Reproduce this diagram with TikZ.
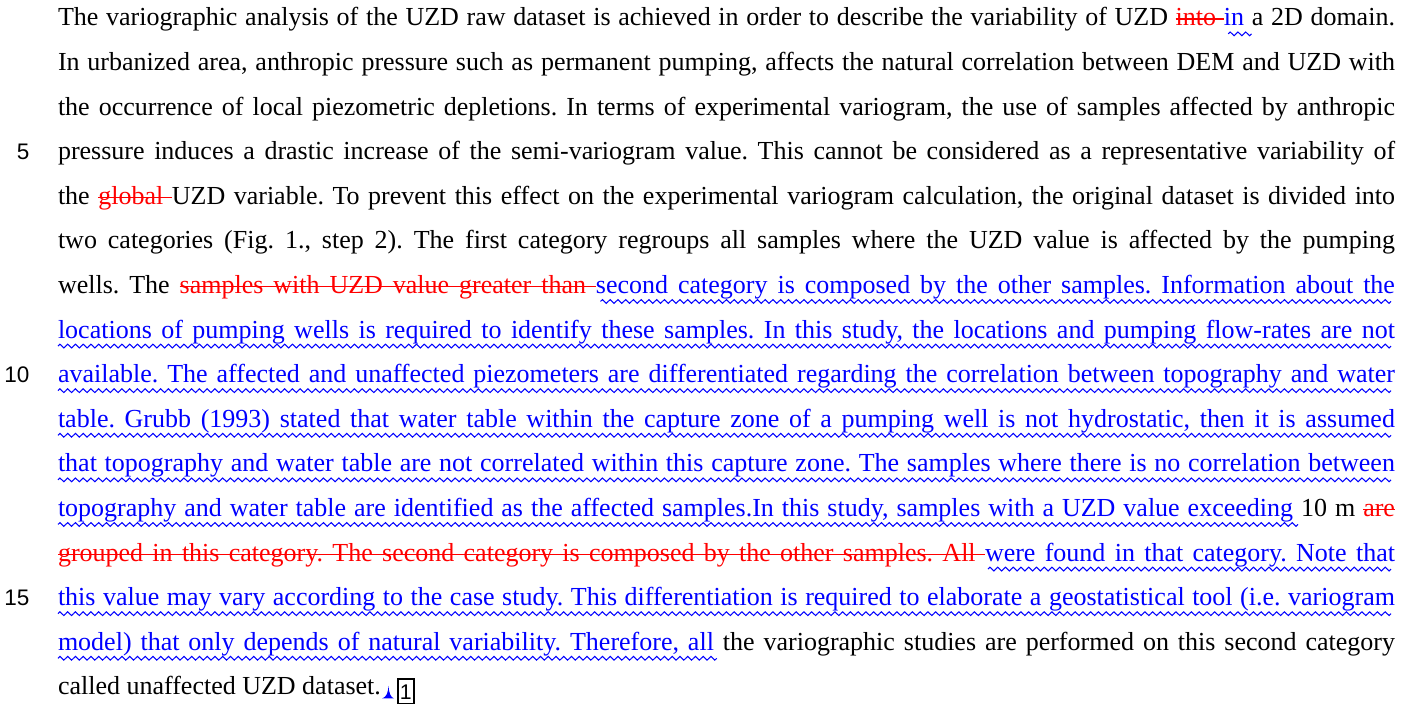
\documentclass[tikz,border=0pt]{standalone}
\usepackage{fontspec}
\setmainfont{Liberation Serif}
\setsansfont{Liberation Sans}
\usepackage{xcolor}

% ---- word-by-word markup: red strike-out for deletions, blue wavy underline for additions
\newbox\wordbox
\newsavebox\wavebox
\newlength\wavep
\setlength\wavep{3.1pt}
\newcommand\strikeword[1]{\setbox\wordbox\hbox{#1}%
  \leaders\hrule height 3.0pt depth -2.55pt\hskip\wd\wordbox
  \kern-\wd\wordbox\box\wordbox}
\newcommand\strikespace{\leaders\hrule height 3.0pt depth -2.55pt%
  \hskip\fontdimen2\font plus\fontdimen3\font minus\fontdimen4\font}
% first word of a wavy run: the wave starts on the word itself
\newcommand\wavefirst[1]{\setbox\wordbox\hbox{#1}%
  \leaders\copy\wavebox\hskip\wd\wordbox
  \kern-\wd\wordbox\box\wordbox}
% later words and spaces reach one period back so the aligned wave stays unbroken
\newcommand\waveword[1]{\setbox\wordbox\hbox{#1}%
  \kern-\wavep\leaders\copy\wavebox\hskip\dimexpr\wd\wordbox+\wavep\relax
  \kern-\wd\wordbox\box\wordbox}
\newcommand\wavespace{\kern-\wavep\leaders\copy\wavebox
  \hskip\dimexpr\fontdimen2\font+\wavep\relax plus\fontdimen3\font minus\fontdimen4\font}

\ExplSyntaxOn
\seq_new:N \l_mark_words_seq
\bool_new:N \l_mark_first_bool
% #1 first-word macro, #2 word macro, #3 space macro, #4 text
\cs_new_protected:Npn \markrun #1 #2 #3 #4
  {
    \seq_set_split:Nnn \l_mark_words_seq { ~ } { #4 }
    \bool_set_true:N \l_mark_first_bool
    \seq_map_inline:Nn \l_mark_words_seq
      {
        \bool_if:NTF \l_mark_first_bool
          { \tl_if_blank:nF { ##1 } { #1 { ##1 } } }
          { #3 \tl_if_blank:nF { ##1 } { #2 { ##1 } } }
        \bool_set_false:N \l_mark_first_bool
      }
  }
\ExplSyntaxOff

\newcommand\diffdel[1]{{\color{red}\markrun\strikeword\strikeword\strikespace{#1}}}
\newcommand\diffadd[1]{{\color{blue}\markrun\wavefirst\waveword\wavespace{#1}}}

% one justified line of the paragraph
\newlength\linew
\setlength\linew{534.8pt}
\newcommand\jline[1]{\hbox to \linew{#1}}

\tikzset{
  textline/.style={anchor=base west, inner sep=0pt, outer sep=0pt,
                   font=\fontsize{10.4}{12}\selectfont\frenchspacing},
  linenum/.style={anchor=base east, inner sep=0pt,
                  font=\sffamily\fontsize{9}{11}\selectfont},
  notebox/.style={draw, line width=0.8pt, inner sep=0pt, minimum width=6.6pt,
                  minimum height=10pt, font=\sffamily\fontsize{8.5}{10}\selectfont}
}

\begin{document}
% one period of the underline wave, built with basic-layer pgf
\sbox\wavebox{\begin{pgfpicture}%
  \pgfsetbaseline{0pt}%
  \pgfpathrectanglecorners{\pgfpoint{0pt}{0pt}}{\pgfpoint{3.1pt}{-4.2pt}}%
  \pgfusepath{use as bounding box}%
  \pgfsetstrokecolor{blue}\pgfsetlinewidth{0.42pt}%
  \pgfpathmoveto{\pgfpoint{0pt}{-3.15pt}}%
  \pgfpathcurveto{\pgfpoint{0.5pt}{-2.15pt}}{\pgfpoint{1.05pt}{-2.15pt}}{\pgfpoint{1.55pt}{-3.15pt}}%
  \pgfpathcurveto{\pgfpoint{2.05pt}{-4.15pt}}{\pgfpoint{2.6pt}{-4.15pt}}{\pgfpoint{3.1pt}{-3.15pt}}%
  \pgfusepath{stroke}%
\end{pgfpicture}}%
\begin{tikzpicture}[x=0.4pt, y=-0.4pt]
\useasboundingbox (0,0) rectangle (1413,704);

\node[textline] (l1) at (58,26.0) {\jline{The variographic analysis of the UZD raw dataset is achieved in order to describe the variability of UZD \diffdel{into }\diffadd{in }a 2D domain.}};
\node[textline] (l2) at (58,70.6) {\jline{In urbanized area, anthropic pressure such as permanent pumping, affects the natural correlation between DEM and UZD with}};
\node[textline] (l3) at (58,115.2) {\jline{the occurrence of local piezometric depletions. In terms of experimental variogram, the use of samples affected by anthropic}};
\node[textline] (l4) at (58,159.8) {\jline{pressure induces a drastic increase of the semi-variogram value. This cannot be considered as a representative variability of}};
\node[textline] (l5) at (58,204.4) {\jline{the \diffdel{global }UZD variable. To prevent this effect on the experimental variogram calculation, the original dataset is divided into}};
\node[textline] (l6) at (58,249.0) {\jline{two categories (Fig. 1., step 2). The first category regroups all samples where the UZD value is affected by the pumping}};
\node[textline] (l7) at (58,293.6) {\jline{wells. The \diffdel{samples with UZD value greater than }\diffadd{second category is composed by the other samples. Information about the}}};
\node[textline] (l8) at (58,338.2) {\jline{\diffadd{locations of pumping wells is required to identify these samples. In this study, the locations and pumping flow-rates are not}}};
\node[textline] (l9) at (58,382.8) {\jline{\diffadd{available. The affected and unaffected piezometers are differentiated regarding the correlation between topography and water}}};
\node[textline] (l10) at (58,427.4) {\jline{\diffadd{table. Grubb (1993) stated that water table within the capture zone of a pumping well is not hydrostatic, then it is assumed}}};
\node[textline] (l11) at (58,472.0) {\jline{\diffadd{that topography and water table are not correlated within this capture zone. The samples where there is no correlation between}}};
\node[textline] (l12) at (58,516.6) {\jline{\diffadd{topography and water table are identified as the affected samples.In this study, samples with a UZD value exceeding }10 m \diffdel{are}}};
\node[textline] (l13) at (58,561.2) {\jline{\diffdel{grouped in this category. The second category is composed by the other samples. All }\diffadd{were found in that category. Note that}}};
\node[textline] (l14) at (58,605.8) {\jline{\diffadd{this value may vary according to the case study. This differentiation is required to elaborate a geostatistical tool (i.e. variogram}}};
\node[textline] (l15) at (58,650.4) {\jline{\diffadd{model) that only depends of natural variability. Therefore, all }the variographic studies are performed on this second category}};
\node[textline] (l16) at (58,695.0) {called unaffected UZD dataset.};

% line numbers in the margin
\node[linenum] (n5)  at (30,159.8) {5};
\node[linenum] (n10) at (30,382.8) {10};
\node[linenum] (n15) at (30,605.8) {15};

% comment anchor and its numbered box
\fill[blue] (382,698.5) .. controls (386.5,697) and (388,693) .. (388.5,686)
            .. controls (389,693) and (390.5,697) .. (394,698.5) -- cycle;
\node[notebox, anchor=north west] (c1) at (396.5,678.5) {1};
\end{tikzpicture}
\end{document}
